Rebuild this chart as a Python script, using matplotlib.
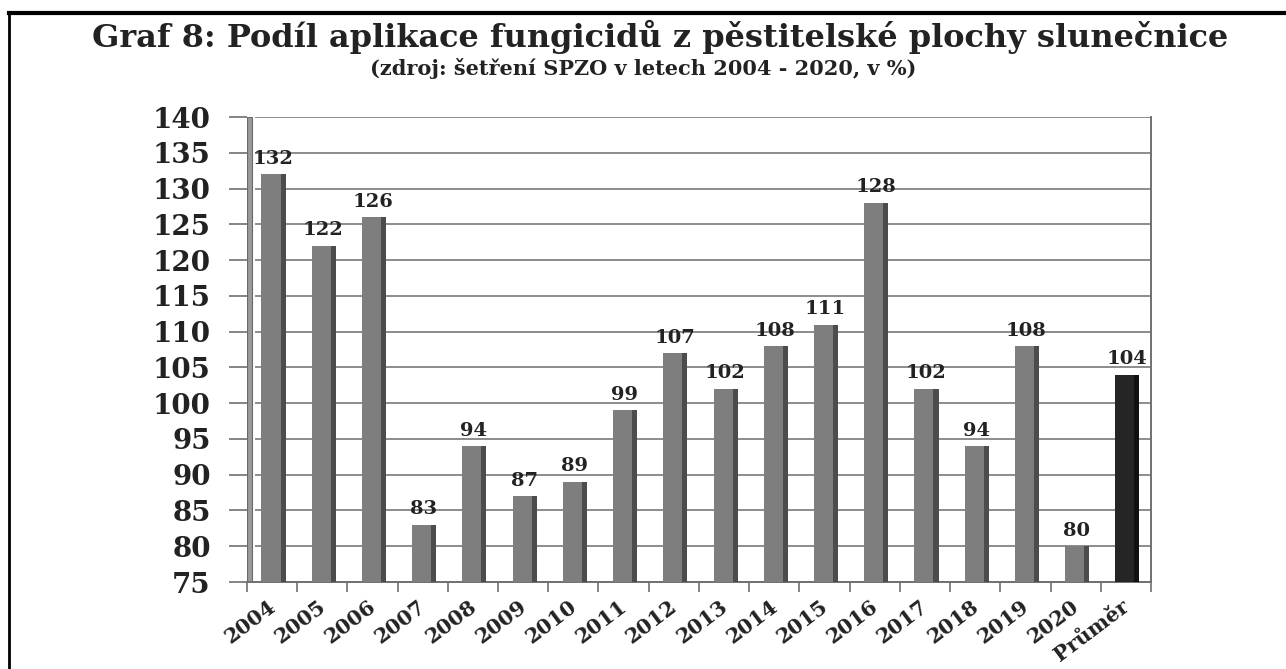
#!/usr/bin/env python3
"""Graf 8: podil aplikace fungicidu z pestitelske plochy slunecnice."""

import matplotlib
matplotlib.use("Agg")
import matplotlib.pyplot as plt
from matplotlib.lines import Line2D
from matplotlib.patches import Rectangle
import numpy as np

categories = ["2004", "2005", "2006", "2007", "2008", "2009", "2010", "2011", "2012",
              "2013", "2014", "2015", "2016", "2017", "2018", "2019", "2020", "Průměr"]
values = [132, 122, 126, 83, 94, 87, 89, 99, 107, 102, 108, 111, 128, 102, 94, 108, 80, 104]
y_ticks = list(range(75, 141, 5))

FONT = ["DejaVu Serif"]
FACE = "#7e7e7e"
SIDE = "#4c4c4c"
AVG_FACE = "#252525"
AVG_SIDE = "#101010"

fig = plt.figure(figsize=(12.86, 6.69), dpi=100)
ax = fig.add_axes([0.192, 0.130, 0.703, 0.695])

x = np.arange(len(categories))
face_colors = [FACE] * (len(values) - 1) + [AVG_FACE]
side_colors = [SIDE] * (len(values) - 1) + [AVG_SIDE]

# pseudo-3D bars: front face plus a darker right side
ax.bar(x - 0.02, values, width=0.38, bottom=0, color=face_colors, zorder=3)
ax.bar(x + 0.22, values, width=0.1, bottom=0, color=side_colors, zorder=3)
ax.set_ylim(75, 140)
ax.set_xlim(-0.5, len(categories) - 0.5)

for xi, v in zip(x, values):
    ax.text(xi + 0.02, v + 0.9, str(v), ha="center", va="bottom", fontsize=14,
            fontweight="bold", family=FONT, color="#222222", zorder=4)

# grid lines on the back wall
for t in y_ticks:
    ax.axhline(t, xmin=0.01, xmax=1, color="#8c8c8c", lw=1.4, zorder=1)

# left wall
ax.add_patch(Rectangle((0, 0), 0.006, 1, transform=ax.transAxes, facecolor="#9a9a9a",
                       edgecolor="#6a6a6a", lw=0.8, zorder=2))

for side in ["top", "left", "bottom", "right"]:
    ax.spines[side].set_visible(False)
ax.plot([1, 1], [0, 1], transform=ax.transAxes, color="#707070", lw=1.4, clip_on=False)
ax.plot([0, 1], [0, 0], transform=ax.transAxes, color="#707070", lw=1.4, clip_on=False)

ax.set_yticks(y_ticks)
ax.set_yticklabels([str(t) for t in y_ticks], fontsize=20, fontweight="bold",
                   family=FONT, color="#222222")
ax.tick_params(axis="y", length=13, width=1.2, color="#707070", pad=13)

ax.set_xticks(x - 0.1)
ax.set_xticklabels(categories, rotation=37, ha="right", rotation_mode="anchor",
                   fontsize=15, fontweight="bold", family=FONT, color="#222222")
ax.tick_params(axis="x", length=0, pad=10)
ax.set_xticks(np.arange(-0.5, len(categories)), minor=True)
ax.tick_params(axis="x", which="minor", length=7, width=1.2, color="#707070")

fig.text(0.513, 0.945, "Graf 8: Podíl aplikace fungicidů z pěstitelské plochy slunečnice",
         ha="center", va="center", fontsize=23, fontweight="bold", family=FONT, color="#222222")
fig.text(0.5, 0.898, "(zdroj: šetření SPZO v letech 2004 - 2020, v %)",
         ha="center", va="center", fontsize=15, fontweight="bold", family=FONT, color="#222222")

# outer frame
fig.add_artist(Line2D([0.007, 1.0], [0.981, 0.981], transform=fig.transFigure, color="black", lw=3))
fig.add_artist(Line2D([0.007, 0.007], [0.0, 0.981], transform=fig.transFigure, color="black", lw=2))

fig.savefig("out.png", dpi=100)
